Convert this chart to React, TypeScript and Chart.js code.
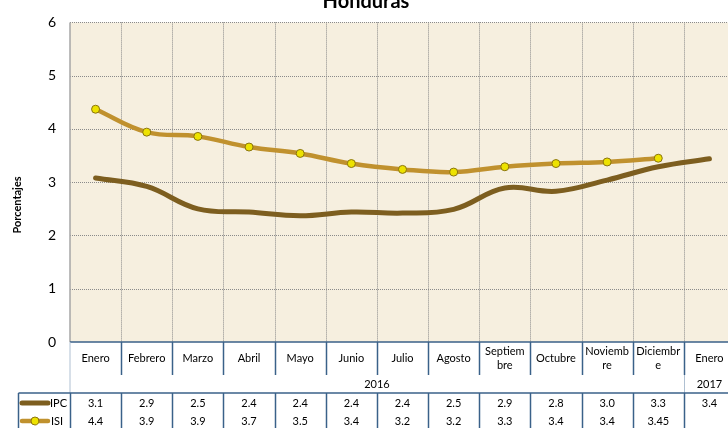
import React, { useEffect, useRef } from "react";
import { Chart, registerables } from "chart.js";
Chart.register(...registerables);

const title = "Honduras";
const yTitle = "Porcentajes";
const categories = [
  ["Enero"], ["Febrero"], ["Marzo"], ["Abril"], ["Mayo"], ["Junio"], ["Julio"],
  ["Agosto"], ["Septiem", "bre"], ["Octubre"], ["Noviemb", "re"], ["Diciembr", "e"], ["Enero"],
];
const years = ["2016", "2017"];
const yearSpans = [12, 1];
const seriesNames = ["IPC", "ISI"];
const ipcValues = [3.08, 2.92, 2.5, 2.44, 2.37, 2.44, 2.42, 2.49, 2.89, 2.83, 3.04, 3.29, 3.44];
const isiValues = [4.37, 3.94, 3.86, 3.66, 3.54, 3.35, 3.24, 3.19, 3.29, 3.35, 3.38, 3.45, null];
const ipcTable = ["3.1", "2.9", "2.5", "2.4", "2.4", "2.4", "2.4", "2.5", "2.9", "2.8", "3.0", "3.3", "3.4"];
const isiTable = ["4.4", "3.9", "3.9", "3.7", "3.5", "3.4", "3.2", "3.2", "3.3", "3.4", "3.4", "3.45", ""];
const yMin = 0;
const yMax = 6;
const yStep = 1;

const FONT = "Lato, 'Liberation Sans', sans-serif";
const IPC_COLOR = "#7D5E1F";
const ISI_COLOR = "#C0912E";
const MARKER_FILL = "#EDE200";
const MARKER_BORDER = "#8A7410";
const TABLE_BLUE = "#3A6189";
const LIGHT_BLUE = "#AFC0D2";
const BG = "#F6EFDF";

function App() {
  const ref = useRef<HTMLCanvasElement | null>(null);

  useEffect(() => {
    const canvas = ref.current;
    if (!canvas) return;

    const bgPlugin = {
      id: "bgGrid",
      beforeDraw(chart: any) {
        const { ctx, chartArea: a, scales } = chart;
        const x = scales.x;
        const y = scales.y;
        ctx.save();
        ctx.fillStyle = BG;
        ctx.fillRect(a.left, a.top, a.right - a.left, a.bottom - a.top);
        ctx.strokeStyle = "#8a8a8a";
        ctx.lineWidth = 1;
        ctx.setLineDash([1, 1]);
        // horizontal grid
        for (let v = yMin + yStep; v <= yMax; v += yStep) {
          const py = Math.round(y.getPixelForValue(v)) + 0.5;
          ctx.beginPath();
          ctx.moveTo(a.left, py);
          ctx.lineTo(a.right, py);
          ctx.stroke();
        }
        // vertical grid at category boundaries
        for (let i = 1; i < categories.length; i++) {
          const px = Math.round((x.getPixelForValue(i - 1) + x.getPixelForValue(i)) / 2) + 0.5;
          ctx.beginPath();
          ctx.moveTo(px, a.top);
          ctx.lineTo(px, a.bottom);
          ctx.stroke();
        }
        ctx.setLineDash([]);
        ctx.strokeStyle = "#a6a6a6";
        ctx.lineWidth = 1.5;
        ctx.beginPath();
        ctx.moveTo(a.left, a.top);
        ctx.lineTo(a.left, a.bottom);
        ctx.stroke();
        ctx.restore();
      },
    };

    const tablePlugin = {
      id: "dataTable",
      afterDraw(chart: any) {
        const { ctx, chartArea: a, scales, width } = chart;
        const x = scales.x;
        const half = (x.getPixelForValue(1) - x.getPixelForValue(0)) / 2;
        const bound = (i: number) => Math.round(x.getPixelForValue(i) - half) + 0.5;
        const rowTop = a.bottom;
        const row1Bottom = rowTop + 33;
        const row2Bottom = rowTop + 51;
        const ipcY = row2Bottom + 10;
        const isiY = row2Bottom + 28;
        const tableLeft = 18.5;

        ctx.save();
        // title
        ctx.fillStyle = "#000";
        ctx.font = `bold 20px ${FONT}`;
        ctx.textAlign = "center";
        ctx.textBaseline = "alphabetic";
        ctx.fillText(title, 366, 8);

        // y axis title
        ctx.save();
        ctx.translate(17, 205);
        ctx.rotate(-Math.PI / 2);
        ctx.font = `bold 11px ${FONT}`;
        ctx.textBaseline = "middle";
        ctx.fillText(yTitle, 0, 0);
        ctx.restore();

        // table lines
        ctx.lineWidth = 1.5;
        ctx.strokeStyle = TABLE_BLUE;
        ctx.beginPath();
        ctx.moveTo(a.left, rowTop);
        ctx.lineTo(width, rowTop);
        ctx.stroke();
        for (let i = 1; i < categories.length; i++) {
          const px = bound(i);
          ctx.beginPath();
          ctx.moveTo(px, rowTop);
          ctx.lineTo(px, row1Bottom);
          ctx.stroke();
        }
        ctx.lineWidth = 1;
        ctx.strokeStyle = LIGHT_BLUE;
        ctx.beginPath();
        ctx.moveTo(a.left, rowTop);
        ctx.lineTo(a.left, row2Bottom);
        ctx.stroke();
        // year separators
        let idx = 0;
        for (let k = 0; k < yearSpans.length - 1; k++) {
          idx += yearSpans[k];
          const px = bound(idx);
          ctx.beginPath();
          ctx.moveTo(px, row1Bottom);
          ctx.lineTo(px, row2Bottom);
          ctx.stroke();
        }
        ctx.lineWidth = 1.5;
        ctx.strokeStyle = TABLE_BLUE;
        ctx.beginPath();
        ctx.moveTo(tableLeft, row2Bottom);
        ctx.lineTo(width, row2Bottom);
        ctx.stroke();
        const verts = [tableLeft, Math.round(a.left) + 0.5];
        for (let i = 1; i < categories.length; i++) verts.push(bound(i));
        verts.forEach((px) => {
          ctx.beginPath();
          ctx.moveTo(px, row2Bottom);
          ctx.lineTo(px, chart.height);
          ctx.stroke();
        });

        // category labels
        ctx.fillStyle = "#000";
        ctx.font = `11px ${FONT}`;
        ctx.textAlign = "center";
        ctx.textBaseline = "middle";
        const rowMid = (rowTop + row1Bottom) / 2;
        categories.forEach((lines, i) => {
          const cx = x.getPixelForValue(i);
          const lh = 14;
          const start = rowMid - ((lines.length - 1) * lh) / 2;
          lines.forEach((t, j) => ctx.fillText(t, cx, start + j * lh));
        });
        // years
        let s = 0;
        years.forEach((yr, k) => {
          const l = x.getPixelForValue(s) - half;
          const r = x.getPixelForValue(s + yearSpans[k] - 1) + half;
          ctx.fillText(yr, (l + r) / 2, (row1Bottom + row2Bottom) / 2);
          s += yearSpans[k];
        });
        // values
        ipcTable.forEach((t, i) => ctx.fillText(t, x.getPixelForValue(i), ipcY));
        isiTable.forEach((t, i) => ctx.fillText(t, x.getPixelForValue(i), isiY));

        // legend keys
        ctx.lineCap = "round";
        ctx.lineWidth = 5;
        ctx.strokeStyle = IPC_COLOR;
        ctx.beginPath();
        ctx.moveTo(22, ipcY);
        ctx.lineTo(48, ipcY);
        ctx.stroke();
        ctx.lineWidth = 4.5;
        ctx.strokeStyle = ISI_COLOR;
        ctx.beginPath();
        ctx.moveTo(22, isiY);
        ctx.lineTo(48, isiY);
        ctx.stroke();
        ctx.lineWidth = 1;
        ctx.fillStyle = MARKER_FILL;
        ctx.strokeStyle = MARKER_BORDER;
        ctx.beginPath();
        ctx.arc(35, isiY, 4, 0, Math.PI * 2);
        ctx.fill();
        ctx.stroke();
        ctx.fillStyle = "#000";
        ctx.textAlign = "left";
        ctx.fillText(seriesNames[0], 50, ipcY);
        ctx.fillText(seriesNames[1], 51, isiY);
        ctx.restore();
      },
    };

    const chart = new Chart(canvas, {
      type: "line",
      data: {
        labels: categories.map((c) => c.join("")),
        datasets: [
          {
            label: seriesNames[0],
            data: ipcValues,
            borderColor: IPC_COLOR,
            borderWidth: 5,
            pointRadius: 0,
            tension: 0.4,
            borderCapStyle: "round",
            borderJoinStyle: "round",
          },
          {
            label: seriesNames[1],
            data: isiValues,
            borderColor: ISI_COLOR,
            borderWidth: 4.5,
            pointRadius: 4,
            pointBackgroundColor: MARKER_FILL,
            pointBorderColor: MARKER_BORDER,
            pointBorderWidth: 1,
            tension: 0.4,
            borderCapStyle: "round",
            borderJoinStyle: "round",
          },
        ],
      },
      options: {
        responsive: false,
        animation: false,
        devicePixelRatio: 1,
        layout: { padding: { top: 19, bottom: 86, left: 0, right: 5 } },
        plugins: { legend: { display: false }, tooltip: { enabled: false }, title: { display: false } },
        scales: {
          x: { type: "category", display: false, offset: true },
          y: {
            min: yMin,
            max: yMax,
            ticks: { stepSize: yStep, padding: 14, color: "#000", font: { size: 14, family: FONT } },
            grid: { display: false, drawTicks: false },
            border: { display: false },
            afterFit: (s: any) => {
              s.width = 70;
            },
          },
        },
      },
      plugins: [bgPlugin, tablePlugin],
    } as any);
    return () => chart.destroy();
  }, []);

  return (
    <div style={{ position: "fixed", left: 0, top: 0, width: 728, height: 428, overflow: "hidden", background: "#fff" }}>
      <canvas ref={ref} width={740} height={428} style={{ display: "block" }} />
    </div>
  );
}

export default App;
